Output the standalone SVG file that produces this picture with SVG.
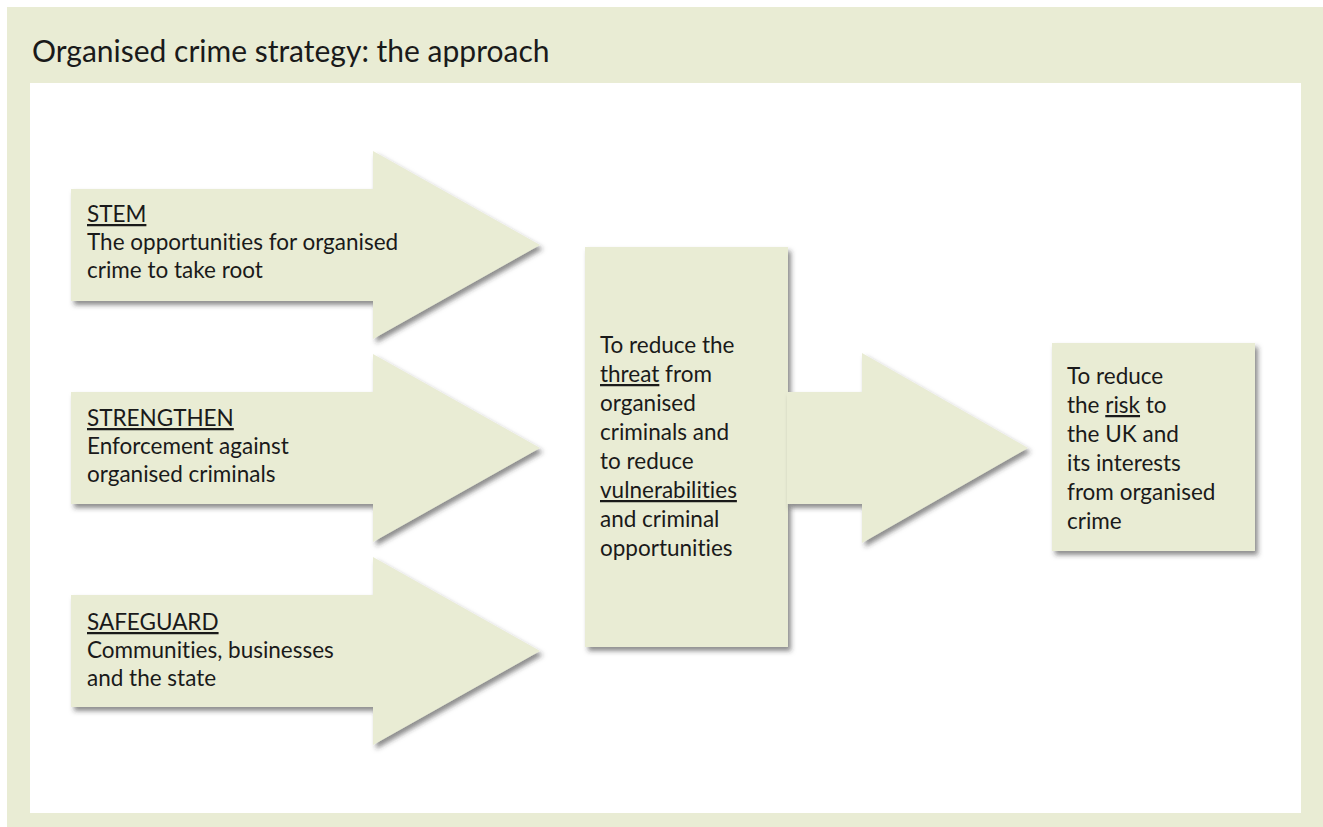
<svg xmlns="http://www.w3.org/2000/svg" width="1323" height="827" viewBox="0 0 1323 827">
<defs>
<filter id="sh" x="-10%" y="-10%" width="125%" height="125%">
<feDropShadow dx="3" dy="4" stdDeviation="2.5" flood-color="#333" flood-opacity="0.55"/>
</filter>
</defs>
<style>
.shape{fill:#E9ECD4;filter:url(#sh);}
.t{font-family:Lato,"Open Sans","Liberation Sans",sans-serif;font-size:22.5px;fill:#1a1a1a;font-variant-ligatures:none;}
.title{font-family:Lato,"Open Sans","Liberation Sans",sans-serif;font-size:30px;fill:#1a1a1a;font-variant-ligatures:none;}
.u{text-decoration:underline;}
</style>
<rect x="7" y="7" width="1316" height="820" fill="#E9ECD4"/>
<rect x="30" y="83" width="1271" height="730" fill="#FFFFFF"/>
<text class="title" x="32" y="62">Organised crime strategy: the approach</text>

<g id="stem">
<path class="shape" d="M71,189 H373 V151 L540,245 L373,339 V301 H71 Z"/>
<text class="t" x="87" y="222"><tspan class="u">STEM</tspan><tspan x="87" dy="28">The opportunities for organised</tspan><tspan x="87" dy="28">crime to take root</tspan></text>
</g>
<g id="strengthen">
<path class="shape" d="M71,392 H373 V354 L540,448 L373,542 V504 H71 Z"/>
<text class="t" x="87" y="426"><tspan class="u">STRENGTHEN</tspan><tspan x="87" dy="28">Enforcement against</tspan><tspan x="87" dy="28">organised criminals</tspan></text>
</g>
<g id="safeguard">
<path class="shape" d="M71,595 H373 V557 L540,651 L373,745 V707 H71 Z"/>
<text class="t" x="87" y="630"><tspan class="u">SAFEGUARD</tspan><tspan x="87" dy="28">Communities, businesses</tspan><tspan x="87" dy="28">and the state</tspan></text>
</g>
<g id="threat">
<rect class="shape" x="585" y="247" width="203" height="400"/>
<text class="t" x="600" y="353"><tspan>To reduce the</tspan><tspan x="600" dy="29"><tspan class="u">threat</tspan> from</tspan><tspan x="600" dy="29">organised</tspan><tspan x="600" dy="29">criminals and</tspan><tspan x="600" dy="29">to reduce</tspan><tspan x="600" dy="29" class="u">vulnerabilities</tspan><tspan x="600" dy="29">and criminal</tspan><tspan x="600" dy="29">opportunities</tspan></text>
</g>
<g id="connectors">
<path class="shape" d="M787,392 H862 V353 L1028,448 L862,543 V504 H787 Z"/>
</g>
<g id="risk">
<rect class="shape" x="1052" y="343" width="203" height="208"/>
<text class="t" x="1067" y="384"><tspan>To reduce</tspan><tspan x="1067" dy="29">the <tspan class="u">risk</tspan> to</tspan><tspan x="1067" dy="29">the UK and</tspan><tspan x="1067" dy="29">its interests</tspan><tspan x="1067" dy="29">from organised</tspan><tspan x="1067" dy="29">crime</tspan></text>
</g>
</svg>
